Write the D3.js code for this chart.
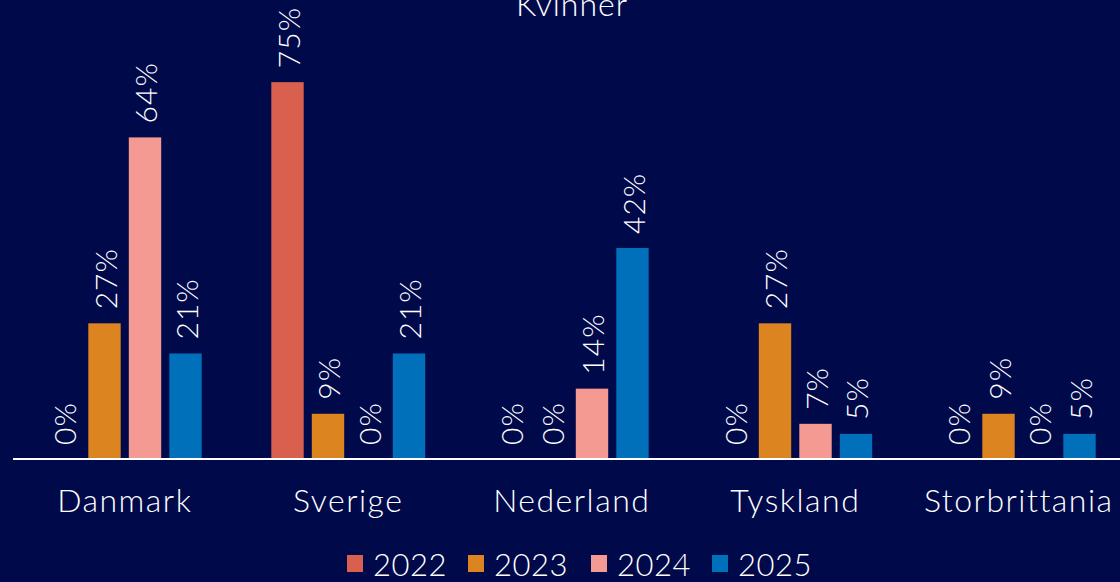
<!doctype html>
<html>
<head>
<meta charset="utf-8">
<title>Kvinner</title>
<script src="https://d3js.org/d3.v7.min.js"></script>
<style>
  body { margin: 0; background: #00094a; }
  text { font-family: Lato, "DejaVu Sans", sans-serif; font-weight: 300; fill: #ffffff; }
</style>
</head>
<body>
<script>

// chart data
var countries = ['Danmark', 'Sverige', 'Nederland', 'Tyskland', 'Storbrittania'];
var years = ['2022', '2023', '2024', '2025'];
var v2022 = [0, 75, 0, 0, 0];
var v2023 = [27, 9, 0, 27, 9];
var v2024 = [64, 0, 14, 7, 0];
var v2025 = [21, 21, 42, 5, 5];
var colors = ['#d95f4e', '#dc8420', '#f59a92', '#0070bb'];
var title = 'Kvinner';

var series = [v2022, v2023, v2024, v2025];

// canvas
var width = 1120, height = 582;
var svg = d3.select('body').append('svg')
            .attr('width', width)
            .attr('height', height);

svg.append('rect').attr('width', width).attr('height', height).attr('fill', '#00094a');

// scales
var x0 = d3.scaleBand().domain(countries).range([13, 1130.5]).paddingInner(0).paddingOuter(0);
var x1 = d3.scaleBand().domain(years).range([30.75, x0.bandwidth() - 30.75]).paddingInner(0.2).paddingOuter(0.1);
var y = d3.scaleLinear().domain([0, 80]).range([459, 57]);

// flatten data for bars
var rows = [];
countries.forEach(function(c, i) {
  years.forEach(function(yr, j) {
    rows.push({country: c, year: yr, value: series[j][i], color: colors[j]});
  });
});

var groups = svg.append('g');

groups.selectAll('rect.bar')
      .data(rows)
      .enter()
      .append('rect')
      .attr('class', 'bar')
      .attr('x', function(d) { return x0(d.country) + x1(d.year); })
      .attr('y', function(d) { return y(d.value); })
      .attr('width', x1.bandwidth())
      .attr('height', function(d) { return y(0) - y(d.value); })
      .attr('fill', function(d) { return d.color; });

// value labels, rotated
groups.selectAll('text.lbl')
      .data(rows)
      .enter()
      .append('text')
      .attr('class', 'lbl')
      .attr('transform', function(d) {
        var cx = x0(d.country) + x1(d.year) + x1.bandwidth() / 2;
        return 'translate(' + cx + ',' + (y(d.value) - 14) + ') rotate(-90)';
      })
      .attr('dominant-baseline', 'central')
      .attr('font-size', 30)
      .attr('letter-spacing', 1)
      .text(function(d) { return d.value + '%'; });

// axis line
var xAxis = d3.axisBottom(x0).tickSize(0).tickPadding(30);
var ax = svg.append('g').attr('transform', 'translate(0,459)').call(xAxis);
ax.select('.domain').attr('stroke', '#ffffff').attr('stroke-width', 2).attr('d', 'M13,0H1120');
ax.selectAll('text').attr('font-size', 32).attr('fill', '#ffffff')
  .attr('letter-spacing', 1.5)
  .style('font-family', 'Lato, "DejaVu Sans", sans-serif')
  .style('font-weight', 300);

// title, partly off the top like the original
svg.append('text')
   .attr('x', 572).attr('y', 16)
   .attr('text-anchor', 'middle')
   .attr('font-size', 32)
   .attr('letter-spacing', 1)
   .text(title);

// legend
var legendX = [347, 468, 591, 712];
var legend = svg.append('g').selectAll('g')
                .data(years)
                .enter()
                .append('g')
                .attr('transform', function(d, i) { return 'translate(' + legendX[i] + ',555)'; });
legend.append('rect').attr('width', 16).attr('height', 17)
      .attr('fill', function(d, i) { return colors[i]; });
legend.append('text').attr('x', 26).attr('y', 9)
      .attr('dominant-baseline', 'central')
      .attr('font-size', 31)
      .attr('letter-spacing', 0.5)
      .text(function(d) { return d; });

</script>
</body>
</html>
